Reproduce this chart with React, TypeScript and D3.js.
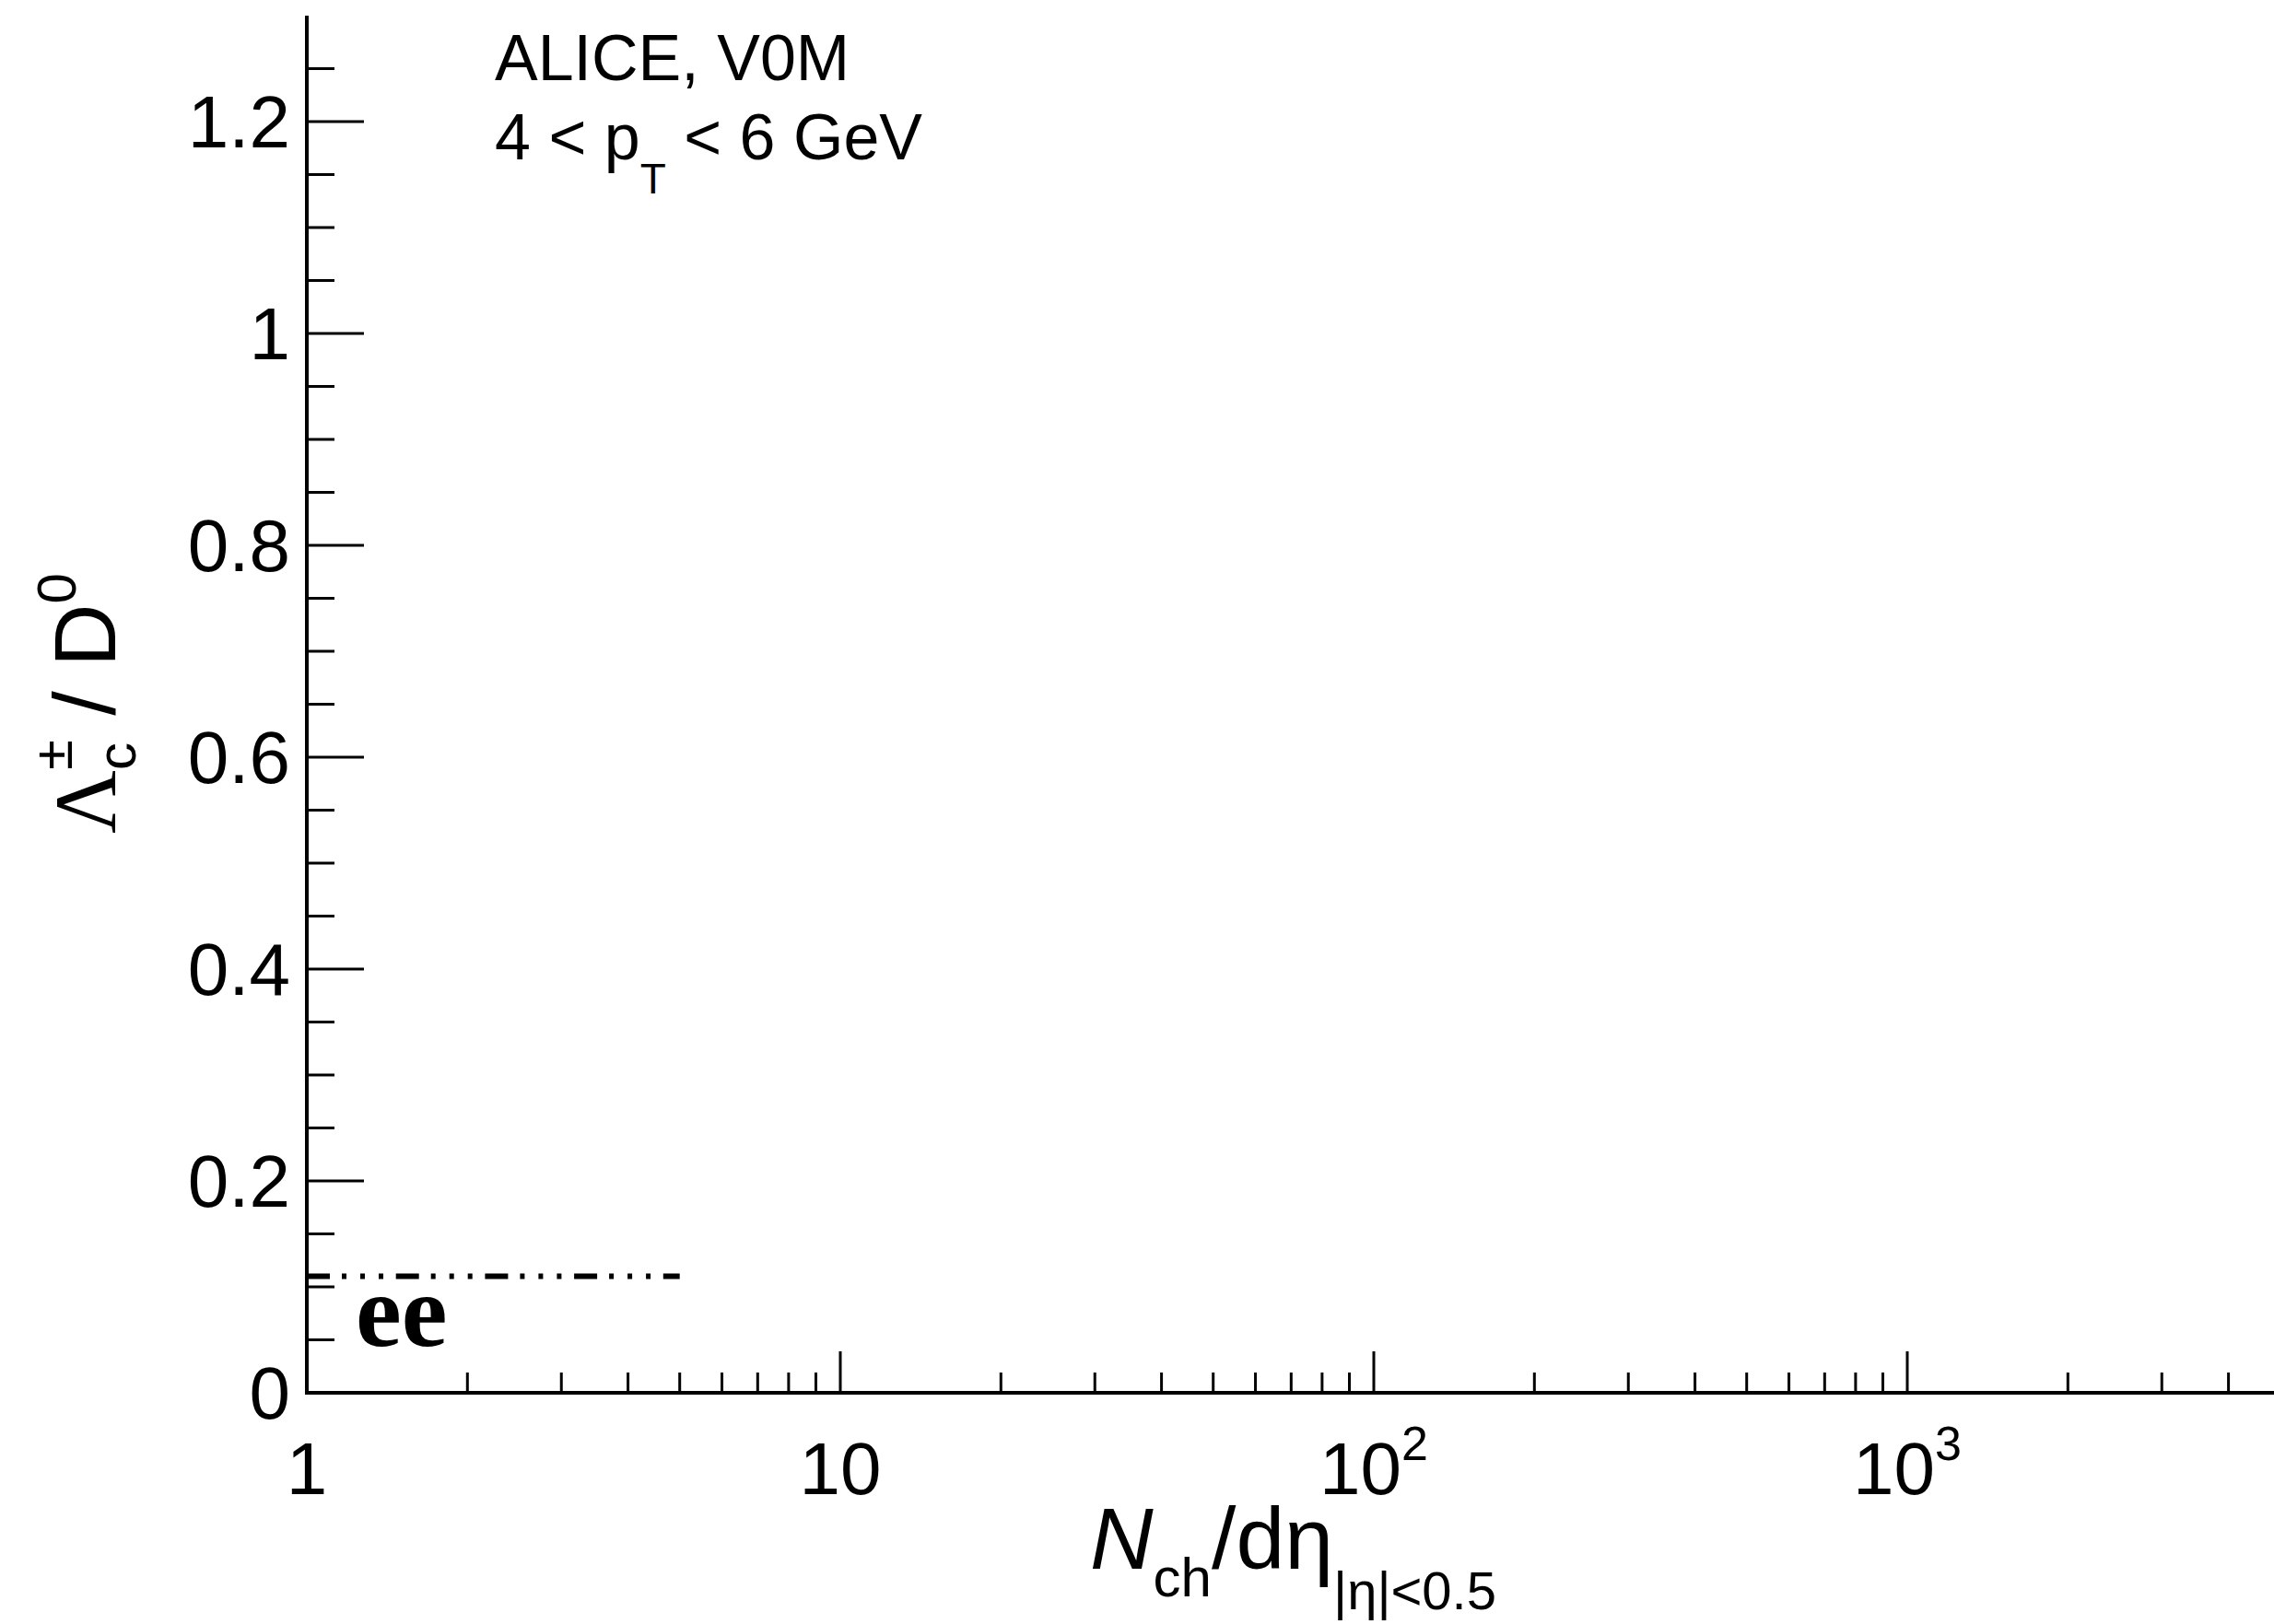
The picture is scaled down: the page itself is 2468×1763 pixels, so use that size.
import * as d3 from "d3";

// x axis (log), y axis (linear)
const xDomain = [1, 5000];
const yDomain = [0, 1.3];
const xMajorTicks = [1, 10, 100, 1000];
const xTickBase = ["1", "10", "10", "10"];
const xTickExp = ["", "", "2", "3"];
const yMajorTicks = [0, 0.2, 0.4, 0.6, 0.8, 1, 1.2];
const yTickLabels = ["0", "0.2", "0.4", "0.6", "0.8", "1", "1.2"];
const yMinorStep = 0.05;

// e+e- reference line
const eeX = [1, 5];
const eeY = [0.11, 0.11];

const W = 2468;
const H = 1763;
const left = 333;
const bottom = 1512;
const top = 17;
const decade = 579;
const font = "'Liberation Sans', Arial, Helvetica, sans-serif";
const serif = "'Liberation Serif', 'Times New Roman', serif";

export default function App() {
  const x = d3
    .scaleLog()
    .domain(xDomain)
    .range([left, left + decade * Math.log10(xDomain[1])]);
  const y = d3.scaleLinear().domain(yDomain).range([bottom, top]);

  const xMinor: number[] = [];
  xMajorTicks.forEach((m) => {
    for (let k = 2; k <= 9; k++) {
      const v = m * k;
      if (v < xDomain[1]) xMinor.push(v);
    }
  });
  const yMinor = d3
    .range(0, yDomain[1] - 1e-9, yMinorStep)
    .filter((v) => Math.abs(v / 0.2 - Math.round(v / 0.2)) > 1e-6);

  const line = d3
    .line<number>()
    .x((d) => x(d))
    .y((_, i) => y(eeY[i]));

  return (
    <svg
      width={W}
      height={H}
      style={{ position: "absolute", left: 0, top: 0, background: "#fff" }}
      fontFamily={font}
    >
      <rect width={W} height={H} fill="#fff" />
      {/* y ticks */}
      {yMajorTicks.map((v, i) => (
        <g key={"ym" + v}>
          <line x1={left} x2={left + 62} y1={y(v)} y2={y(v)} stroke="#000" strokeWidth={3} />
          <text
            x={315}
            y={y(v)}
            textAnchor="end"
            dominantBaseline="central"
            fontSize={80}
          >
            {yTickLabels[i]}
          </text>
        </g>
      ))}
      {yMinor.map((v) => (
        <line key={"yn" + v} x1={left} x2={left + 30} y1={y(v)} y2={y(v)} stroke="#000" strokeWidth={3} />
      ))}
      {/* x ticks */}
      {xMajorTicks.map((v, i) => (
        <g key={"xm" + v}>
          <line x1={x(v)} x2={x(v)} y1={bottom} y2={bottom - 45} stroke="#000" strokeWidth={3} />
          <text x={x(v)} y={1622} textAnchor="middle" fontSize={80}>
            {xTickBase[i]}
            {xTickExp[i] && (
              <tspan fontSize={52} dy={-37}>
                {xTickExp[i]}
              </tspan>
            )}
          </text>
        </g>
      ))}
      {xMinor.map((v) => (
        <line key={"xn" + v} x1={x(v)} x2={x(v)} y1={bottom} y2={bottom - 22} stroke="#000" strokeWidth={3} />
      ))}
      {/* axes */}
      <line x1={left} x2={left} y1={top} y2={bottom + 2} stroke="#000" strokeWidth={4} />
      <line x1={left - 2} x2={W} y1={bottom} y2={bottom} stroke="#000" strokeWidth={4} />

      {/* ee line */}
      <path
        d={line(eeX) ?? ""}
        fill="none"
        stroke="#000"
        strokeWidth={6}
        strokeDasharray="25 13 5 15 5 15 5 13.7"
      />
      <text x={386} y={1461} fontFamily={serif} fontWeight="bold" fontSize={112}>
        ee
      </text>

      {/* header */}
      <text x={537} y={87} fontSize={70}>
        ALICE, V0M
      </text>
      <text x={537} y={173} fontSize={70}>
        4 {"<"} p
        <tspan fontSize={46} dy={37}>
          T
        </tspan>
        <tspan dy={-37}> {"<"} 6 GeV</tspan>
      </text>

      {/* x title */}
      <text x={1183} y={1703} fontSize={95}>
        <tspan fontStyle="italic">N</tspan>
        <tspan fontSize={60} dy={30}>
          ch
        </tspan>
        <tspan dy={-30}>/dη</tspan>
        <tspan fontSize={58} dy={44}>
          |η|{"<"}0.5
        </tspan>
      </text>

      {/* y title */}
      <text transform="translate(125,905) rotate(-90)" fontSize={95}>
        <tspan fontFamily={serif}>Λ</tspan>
        <tspan fontSize={60} dy={22}>
          c
        </tspan>
        <tspan fontSize={60} dx={-30} dy={-69}>
          ±
        </tspan>
        <tspan dy={47}> / D</tspan>
        <tspan fontSize={60} dy={-43}>
          0
        </tspan>
      </text>
    </svg>
  );
}
